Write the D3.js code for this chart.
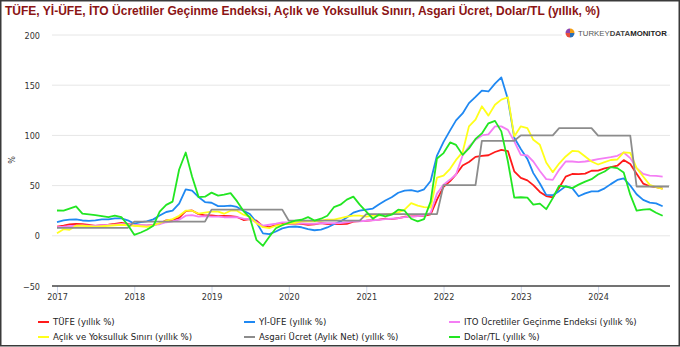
<!DOCTYPE html>
<html><head><meta charset="utf-8">
<script src="https://cdn.jsdelivr.net/npm/d3@7"></script>
<style>html,body{margin:0;padding:0;background:#fff;}svg{display:block;}</style>
</head><body>
<script>
const W = 680, H = 347;
const title = "TÜFE, Yİ-ÜFE, İTO Ücretliler Geçinme Endeksi, Açlık ve Yoksulluk Sınırı, Asgari Ücret, Dolar/TL (yıllık, %)";
const yTicks = [-50, 0, 50, 100, 150, 200];
const xTickYears = [2017, 2018, 2019, 2020, 2021, 2022, 2023, 2024];
const startMonth = "2017-01";

const seriesNames = ["TÜFE (yıllık %)", "Yİ-ÜFE (yıllık %)", "ITO Ücretliler Geçinme Endeksi (yıllık %)",
  "Açlık ve Yoksulluk Sınırı (yıllık %)", "Asgari Ücret (Aylık Net) (yıllık %)", "Dolar/TL (yıllık %)"];
const seriesColors = ["#ff1a1a", "#1f88f2", "#f47ef4", "#ffff1a", "#8c8c8c", "#22e622"];

const tufe = [9.22,10.13,11.29,11.87,11.72,10.90,9.79,10.68,11.20,11.90,12.98,11.92,
 10.35,10.26,10.23,10.85,12.15,15.39,15.85,17.90,24.52,25.24,21.62,20.30,
 20.35,19.67,19.71,19.50,18.71,15.72,16.65,15.01,9.26,8.55,10.56,11.84,
 12.15,12.37,11.86,10.94,11.39,12.62,11.76,11.77,11.75,11.89,14.03,14.60,
 14.97,15.61,16.19,17.14,16.59,17.53,18.95,19.25,19.58,19.89,21.31,36.08,
 48.69,54.44,61.14,69.97,73.50,78.62,79.60,80.21,83.45,85.51,84.39,64.27,
 57.68,55.18,50.51,43.68,39.59,38.21,47.83,58.94,61.53,61.36,61.98,64.77,
 64.86,67.07,68.50,69.80,75.45,71.60,61.78,51.97,49.38,48.58,47.09];
const yiufe = [13.69,15.36,16.09,16.37,15.26,14.87,15.45,16.34,16.28,17.28,17.30,15.47,
 12.14,13.71,14.28,16.37,20.16,23.71,25.00,32.13,46.15,45.01,38.54,33.64,
 32.93,29.58,29.64,30.12,28.71,25.04,21.66,13.45,2.45,1.70,4.26,7.36,
 8.84,9.26,8.50,6.71,5.53,6.17,8.33,11.53,14.33,18.20,23.11,25.15,
 26.16,27.09,31.20,35.17,38.33,42.89,44.92,45.52,43.96,46.31,54.62,79.89,
 93.53,105.01,114.97,121.82,132.16,138.31,144.61,143.75,151.50,157.69,136.02,97.72,
 86.46,76.61,62.43,52.11,40.76,40.42,44.50,49.41,47.44,39.38,42.25,44.22,
 44.20,47.29,51.47,55.66,57.15,50.09,41.37,35.75,33.09,32.24,29.47];
const ito = [8.6,9.0,9.5,10.0,10.3,10.0,10.0,10.5,10.8,11.2,11.8,11.4,
 10.8,10.5,10.3,10.8,11.5,13.5,14.3,16.0,20.0,20.5,19.0,19.5,
 19.0,19.0,18.5,18.5,18.5,17.0,16.6,13.4,10.0,11.0,12.0,13.4,
 13.4,13.0,12.5,12.0,12.0,12.5,12.5,12.5,12.6,13.5,14.3,14.5,
 15.0,15.5,16.0,16.6,17.0,17.5,18.6,19.0,19.5,20.0,23.0,42.0,
 51.0,56.0,61.0,80.0,89.0,95.6,100.0,101.0,109.0,109.0,105.5,94.0,
 80.6,80.0,74.0,64.6,56.5,55.7,65.7,74.0,74.0,73.4,74.0,75.0,
 76.4,77.4,78.4,79.7,83.0,77.4,67.4,61.7,60.0,59.7,59.0];
const aclik = [2.6,6.6,6.0,10.0,10.0,9.5,9.0,9.5,10.0,10.5,11.0,10.5,
 10.0,9.5,9.0,10.5,12.6,15.0,16.6,20.0,25.0,25.0,22.0,23.0,
 24.0,24.0,22.0,25.0,25.0,21.0,19.0,12.6,8.6,7.7,10.0,11.0,
 12.6,13.0,14.3,14.3,14.3,15.0,16.0,16.0,17.5,19.0,20.0,20.0,
 19.0,20.0,20.0,21.0,22.0,23.3,26.0,32.5,30.0,28.5,28.0,58.0,
 60.0,66.7,75.6,83.3,109.0,115.7,129.0,119.7,130.6,135.6,138.0,99.0,
 109.0,107.3,95.6,90.6,73.0,63.4,72.0,79.0,84.5,84.0,79.0,74.0,
 71.0,73.4,75.5,76.0,83.0,82.5,67.4,59.0,50.7,48.4,46.8];
const asgari = [7.92,7.92,7.92,7.92,7.92,7.92,7.92,7.92,7.92,7.92,7.92,7.92,
 14.18,14.18,14.18,14.18,14.18,14.18,14.18,14.18,14.18,14.18,14.18,14.18,
 26.06,26.06,26.06,26.06,26.06,26.06,26.06,26.06,26.06,26.06,26.06,26.06,
 15.03,15.03,15.03,15.03,15.03,15.03,15.03,15.03,15.03,15.03,15.03,15.03,
 21.56,21.56,21.56,21.56,21.56,21.56,21.56,21.56,21.56,21.56,21.56,21.56,
 50.51,50.51,50.51,50.51,50.51,50.51,94.64,94.64,94.64,94.64,94.64,94.64,
 100.0,100.0,100.0,100.0,100.0,100.0,107.30,107.30,107.30,107.30,107.30,107.30,
 99.87,99.87,99.87,99.87,99.87,99.87,49.11,49.11,49.11,49.11,49.11,49.11];
const dolar = [25.2,25.0,27.0,29.3,22.0,21.3,20.5,19.5,18.5,20.0,18.6,11.0,
 1.0,3.3,6.0,10.0,24.0,30.8,34.0,66.0,83.0,59.0,38.5,39.0,
 43.0,40.0,41.0,42.5,34.5,24.6,18.0,-4.0,-10.0,-1.0,7.5,10.5,
 13.0,15.2,16.0,18.6,15.2,17.0,20.0,28.5,31.0,36.0,39.0,31.0,
 24.0,17.0,21.0,19.3,21.0,26.0,25.0,17.0,14.3,16.6,34.0,77.0,
 82.4,93.0,90.5,80.6,87.0,96.5,102.0,112.0,114.5,104.0,74.0,38.0,
 38.4,38.0,31.0,32.0,26.5,37.5,50.0,49.0,47.5,51.0,54.0,56.4,
 61.0,64.0,68.4,67.4,63.0,41.0,25.0,26.0,26.6,23.0,20.0];
const seriesValues = [tufe, yiufe, ito, aclik, asgari, dolar];

const parse = d3.timeParse("%Y-%m");
const months = d3.timeMonth.range(parse(startMonth), new Date(2025, 0, 1));

const svg = d3.select("body").append("svg").attr("width", W).attr("height", H)
  .style("font-family", "'DejaVu Sans Condensed','DejaVu Sans',sans-serif");

svg.append("rect").attr("x", 0.75).attr("y", 0.75).attr("width", W - 1.5).attr("height", H - 2)
  .attr("fill", "#fff").attr("stroke", "#3a3a3a").attr("stroke-width", 1.5);

const plotL = 52, plotR = 670;
const x = d3.scaleTime().domain([months[0], months[95]]).range([57, 669]);
const y = d3.scaleLinear().domain([-50, 200]).range([286, 35]);

// gridlines
svg.append("g").selectAll("line").data(yTicks.filter(v => v > -50)).join("line")
  .attr("x1", plotL).attr("x2", plotR).attr("y1", d => y(d)).attr("y2", d => y(d))
  .attr("stroke", "#e6e6e6").attr("stroke-width", 1);

// y axis labels
const yAxis = d3.axisLeft(y).tickValues(yTicks).tickSize(0).tickPadding(0);
const gy = svg.append("g").attr("transform", "translate(40,0)").call(yAxis);
gy.select(".domain").remove();
gy.selectAll("text").attr("font-size", 9).attr("fill", "#333").attr("dy", "0.35em")
  .style("font-family", "'DejaVu Sans Condensed','DejaVu Sans',sans-serif");

svg.append("text").attr("transform", "translate(15,160) rotate(-90)").attr("text-anchor", "middle")
  .attr("font-size", 9).attr("fill", "#333").text("%");

// x axis
const xAxis = d3.axisBottom(x).tickValues(xTickYears.map(yr => new Date(yr, 0, 1)))
  .tickFormat(d3.timeFormat("%Y")).tickSize(9).tickPadding(2);
const gx = svg.append("g").attr("transform", `translate(0,${y(-50)})`).call(xAxis);
gx.select(".domain").remove();
gx.selectAll(".tick line").attr("stroke", "#ccd6eb");
gx.selectAll("text").attr("font-size", 9).attr("fill", "#333")
  .style("font-family", "'DejaVu Sans Condensed','DejaVu Sans',sans-serif").attr("dy", "0.3em");
svg.append("line").attr("x1", plotL).attr("x2", plotR).attr("y1", y(-50)).attr("y2", y(-50))
  .attr("stroke", "#444").attr("stroke-width", 1.3);

// lines
const line = d3.line().x((d, i) => x(months[i])).y(d => y(d));
svg.append("g").selectAll("path").data(seriesValues).join("path")
  .attr("d", d => line(d)).attr("fill", "none")
  .attr("stroke", (d, i) => seriesColors[i]).attr("stroke-width", 1.8)
  .attr("stroke-linejoin", "round");

// title
const t = svg.append("text").attr("x", 5).attr("y", 15).attr("font-size", 13)
  .attr("font-weight", "bold").attr("fill", "#8b1414")
  .style("font-family", "'Liberation Sans',Arial,sans-serif").text(title);
const tl = t.node().getComputedTextLength();
t.attr("font-size", 13 * 596 / tl);

// logo
const lg = svg.append("g").attr("transform", "translate(570,33)");
lg.append("rect").attr("x", -8).attr("y", -7).attr("width", 102).attr("height", 14).attr("fill", "#fff");
const pie = d3.pie().sort(null)([1, 1, 1, 1]);
const arc = d3.arc().innerRadius(0).outerRadius(4.5);
lg.selectAll("path").data(pie).join("path").attr("d", arc)
  .attr("fill", (d, i) => ["#f39c12", "#2a6fb5", "#e74c3c", "#8e44ad"][i]);
const lt = lg.append("text").attr("x", 8).attr("y", 3.2).attr("font-size", 9)
  .style("font-family", "'Liberation Sans',Arial,sans-serif").attr("fill", "#333");
lt.append("tspan").attr("font-weight", "normal").attr("fill", "#555").text("TURKEY");
lt.append("tspan").attr("font-weight", "bold").attr("fill", "#444").text("DATA");
lt.append("tspan").attr("font-weight", "bold").attr("fill", "#222").text("MONITOR");
const ll = lt.node().getComputedTextLength();
lt.attr("font-size", 9 * 89 / ll);

// legend
const colX = [38, 244, 449];
const rowY = [322, 337];
const leg = svg.append("g").selectAll("g").data(seriesNames).join("g")
  .attr("transform", (d, i) => `translate(${colX[i % 3]},${rowY[Math.floor(i / 3)]})`);
leg.append("line").attr("x1", 0).attr("x2", 11).attr("y1", 0).attr("y2", 0)
  .attr("stroke", (d, i) => seriesColors[i]).attr("stroke-width", 2);
const legTexts = leg.append("text").attr("x", 15).attr("y", 0).attr("dy", "0.35em")
  .attr("font-size", 8).attr("fill", "#222").text(d => d);
const refLen = legTexts.filter((d, i) => i === 2).node().getComputedTextLength();
legTexts.attr("font-size", 8 * 173 / refLen);
</script>
</body></html>
